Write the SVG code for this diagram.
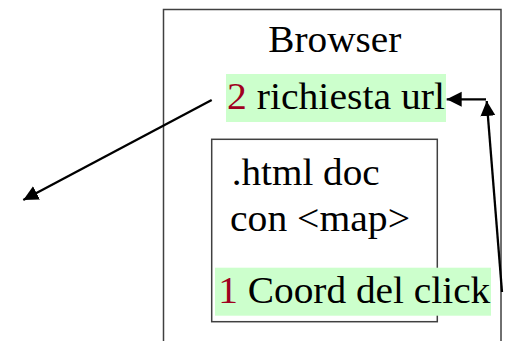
<svg xmlns="http://www.w3.org/2000/svg" width="506" height="341" viewBox="0 0 506 341">
<style>
.box{fill:none;stroke:#404040;stroke-width:1.5}
.hl{fill:#CCFFCC}
.t{font-family:"Liberation Serif","Times New Roman",serif;font-size:37px;fill:#000}
.red{fill:#A00020}
.conn{stroke:#000;stroke-width:2.3;fill:none}
</style>
<defs>
<marker id="ah" markerUnits="userSpaceOnUse" markerWidth="16" markerHeight="16" refX="15" refY="7.5" orient="auto">
<path d="M0,0 L15,7.5 L0,15 Z" fill="#000"/>
</marker>
</defs>
<rect width="506" height="341" fill="#fff"/>
<g id="browser">
<rect class="box" x="163.5" y="9.5" width="337.5" height="360"/>
<text class="t" x="268.3" y="51.7" textLength="133" lengthAdjust="spacingAndGlyphs">Browser</text>
</g>
<g id="richiesta">
<rect class="hl" x="226" y="74" width="220" height="48"/>
<text class="t" x="227" y="109.3" textLength="218" lengthAdjust="spacingAndGlyphs"><tspan class="red">2</tspan> richiesta url</text>
</g>
<g id="doc">
<rect class="box" x="211.7" y="139.3" width="225.6" height="182.4"/>
<text class="t" x="231.7" y="185" textLength="148" lengthAdjust="spacingAndGlyphs">.html doc</text>
<text class="t" x="230" y="231" textLength="180" lengthAdjust="spacingAndGlyphs">con &lt;map&gt;</text>
</g>
<g id="click">
<rect class="hl" x="215" y="267.7" width="276" height="48"/>
<text class="t" x="218.3" y="302.7" textLength="272" lengthAdjust="spacingAndGlyphs"><tspan class="red">1</tspan> Coord del click</text>
</g>
<g id="connectors">
<line class="conn" x1="211.7" y1="100" x2="23.3" y2="200" marker-end="url(#ah)"/>
<line class="conn" x1="502" y1="292" x2="486.7" y2="101" marker-end="url(#ah)"/>
<line class="conn" x1="486" y1="99.3" x2="446.7" y2="99.3" marker-end="url(#ah)"/>
</g>
</svg>
